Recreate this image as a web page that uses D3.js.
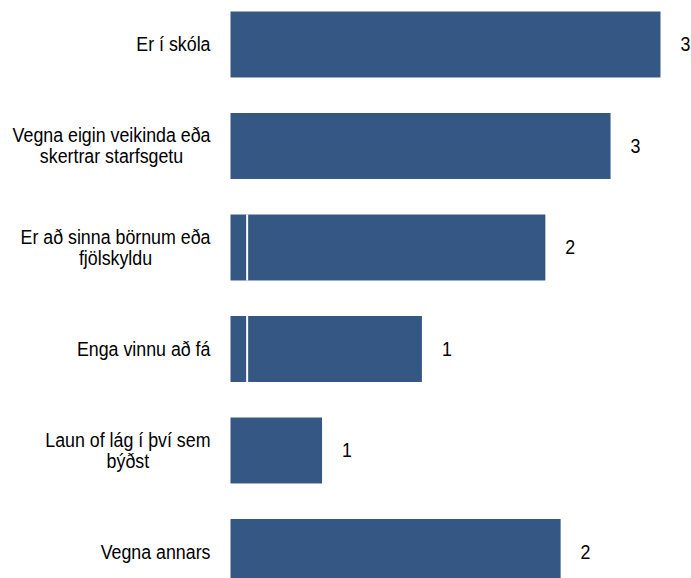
<!DOCTYPE html>
<html>
<head>
<meta charset="utf-8">
<script src="https://cdn.jsdelivr.net/npm/d3@7"></script>
<style>
  html, body { margin: 0; padding: 0; background: #fff; }
  svg { display: block; }
</style>
</head>
<body>
<svg id="chart" width="691" height="578"></svg>
<script>
const categories = [
  ["Er í skóla"],
  ["Vegna eigin veikinda eða", "skertrar starfsgetu"],
  ["Er að sinna börnum eða", "fjölskyldu"],
  ["Enga vinnu að fá"],
  ["Laun of lág í því sem", "býðst"],
  ["Vegna annars"]
];
const firstSegment  = [0, 0, 0.12, 0.12, 0, 0];
const secondSegment = [3.10, 2.74, 2.15, 1.26, 0.66, 2.38];
const valueLabels = ["3", "3", "2", "1", "1", "2"];

const W = 691, H = 578;
const svg = d3.select("#chart");
const FONT = "'Liberation Sans', Arial, sans-serif";
const SX = 0.89; // condensed look

const idx = categories.map((d, i) => i);
const y = d3.scaleBand().domain(idx).range([-6.26, 602.74]).paddingInner(0.35).paddingOuter(0.175);
const x = d3.scaleLinear().domain([0, 3.32]).range([230.5, 691]);

const color = "#345883";

const g = svg.append("g");
g.selectAll("rect.s1").data(idx.filter(i => firstSegment[i] > 0)).enter().append("rect")
  .attr("class", "s1")
  .attr("x", i => x(0)).attr("y", i => y(i))
  .attr("width", i => x(firstSegment[i]) - x(0))
  .attr("height", y.bandwidth())
  .attr("fill", color);
g.selectAll("rect.s2").data(idx).enter().append("rect")
  .attr("class", "s2")
  .attr("x", i => x(firstSegment[i]))
  .attr("y", i => y(i))
  .attr("width", i => x(firstSegment[i] + secondSegment[i]) - x(firstSegment[i]))
  .attr("height", y.bandwidth())
  .attr("fill", color);
g.selectAll("line.sep").data(idx.filter(i => firstSegment[i] > 0)).enter().append("line")
  .attr("x1", i => x(firstSegment[i])).attr("x2", i => x(firstSegment[i]))
  .attr("y1", i => y(i)).attr("y2", i => y(i) + y.bandwidth())
  .attr("stroke", "#fff").attr("stroke-width", 2);

// value labels
g.selectAll("text.val").data(idx).enter().append("text")
  .attr("transform", i => `translate(${x(firstSegment[i] + secondSegment[i]) + 20},${y(i) + y.bandwidth() / 2 + 7}) scale(${SX},1)`)
  .attr("font-family", FONT).attr("font-size", 20).attr("fill", "#000")
  .text(i => valueLabels[i]);

// category labels
const labelRight = 210.5;
const lh = 21;
idx.forEach(i => {
  const lines = categories[i];
  const t = svg.append("text")
    .attr("font-family", FONT).attr("font-size", 20).attr("fill", "#000");
  const cy = y(i) + y.bandwidth() / 2;
  const startBase = cy - (lines.length - 1) * lh / 2 + 7;
  const tspans = lines.map((ln, k) => t.append("tspan").attr("x", 0).attr("y", startBase + k * lh).attr("text-anchor", "middle").text(ln));
  const widths = tspans.map(s => s.node().getComputedTextLength());
  const maxW = d3.max(widths);
  const tx = labelRight - SX * maxW / 2;
  t.attr("transform", `translate(${tx},0) scale(${SX},1)`);
});
</script>
</body>
</html>
